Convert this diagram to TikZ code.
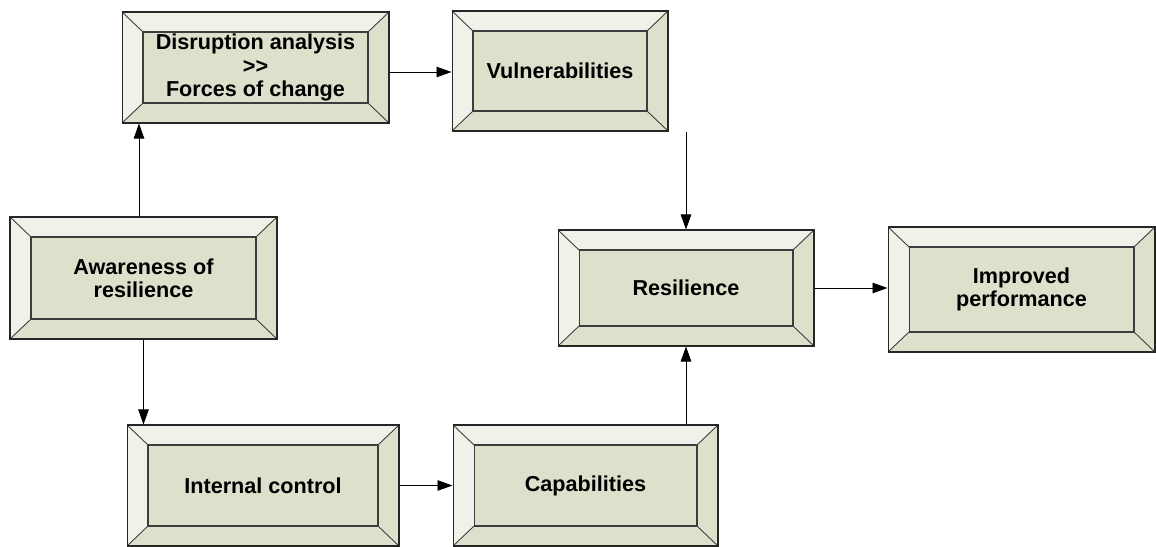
\documentclass[tikz,border=0pt]{standalone}
\usepackage{fontspec}
\setmainfont{Liberation Sans}
\usetikzlibrary{arrows.meta,calc}

\definecolor{bevlight}{RGB}{240,241,232}
\definecolor{bevdark}{RGB}{221,224,203}
\definecolor{bevline}{RGB}{60,60,60}

\tikzset{
	bevelbox/.style={draw=black!85, fill=bevdark, line width=0.6pt, inner sep=0pt,
		align=center, font=\fontsize{12.3}{13.3}\selectfont\bfseries,
		path picture={
			\coordinate (bvnw) at (path picture bounding box.north west);
			\coordinate (bvne) at (path picture bounding box.north east);
			\coordinate (bvsw) at (path picture bounding box.south west);
			\coordinate (bvse) at (path picture bounding box.south east);
			\coordinate (innw) at ([shift={(0.42cm,-0.4cm)}]bvnw);
			\coordinate (inne) at ([shift={(-0.42cm,-0.4cm)}]bvne);
			\coordinate (insw) at ([shift={(0.42cm,0.4cm)}]bvsw);
			\coordinate (inse) at ([shift={(-0.42cm,0.4cm)}]bvse);
			% light bevels, top and left
			\fill[bevlight] (bvnw) -- (bvne) -- (inne) -- (innw) -- cycle;
			\fill[bevlight] (bvnw) -- (innw) -- (insw) -- (bvsw) -- cycle;
			% inner face
			\draw[bevline, fill=bevdark, line width=0.6pt] (innw) rectangle (inse);
			% corner edges
			\draw[bevline, line width=0.5pt] (bvnw) -- (innw) (bvne) -- (inne)
				(bvsw) -- (insw) (bvse) -- (inse);
		}},
	arr/.style={line width=0.5pt, -{Triangle[length=0.3cm, width=0.21cm]}}
}

\begin{document}
\begin{tikzpicture}[x=0.02cm, y=-0.02cm]
	\useasboundingbox (0,0) rectangle (1156,547);
	
	% boxes
	\node[bevelbox, minimum width=5.34cm, minimum height=2.22cm] (dis) at (255.5,67.5)
		{Disruption analysis\\>{}>\\Forces of change};
	\node[bevelbox, minimum width=4.32cm, minimum height=2.4cm] (vul) at (560,71)
		{Vulnerabilities};
	\node[bevelbox, minimum width=5.34cm, minimum height=2.44cm] (awa) at (143.5,278)
		{Awareness of\\resilience};
	\node[bevelbox, minimum width=5.12cm, minimum height=2.32cm] (res) at (686,288)
		{Resilience};
	\node[bevelbox, minimum width=5.34cm, minimum height=2.5cm] (imp) at (1021.5,289.5)
		{Improved\\performance};
	\node[bevelbox, minimum width=5.44cm, minimum height=2.42cm] (int) at (263,485.5)
		{Internal control};
	\node[bevelbox, minimum width=5.3cm, minimum height=2.42cm] (cap) at (585.5,485.5)
		{Capabilities};
	
	% connectors
	\draw[arr] ([xshift=-0.09cm]awa.north) -- ([xshift=-0.09cm]awa.north |- dis.south);
	\draw[arr] (awa.south) -- (awa.south |- int.north);
	\draw[arr] ([yshift=-0.09cm]dis.east) -- ([yshift=-0.09cm]dis.east -| vul.west);
	\draw[arr] (vul.south -| res.north) -- (res.north);
	\draw[arr] (cap.north -| res.south) -- (res.south);
	\draw[arr] (res.east) -- (res.east -| imp.west);
	\draw[arr] (int.east) -- (int.east -| cap.west);
\end{tikzpicture}
\end{document}
